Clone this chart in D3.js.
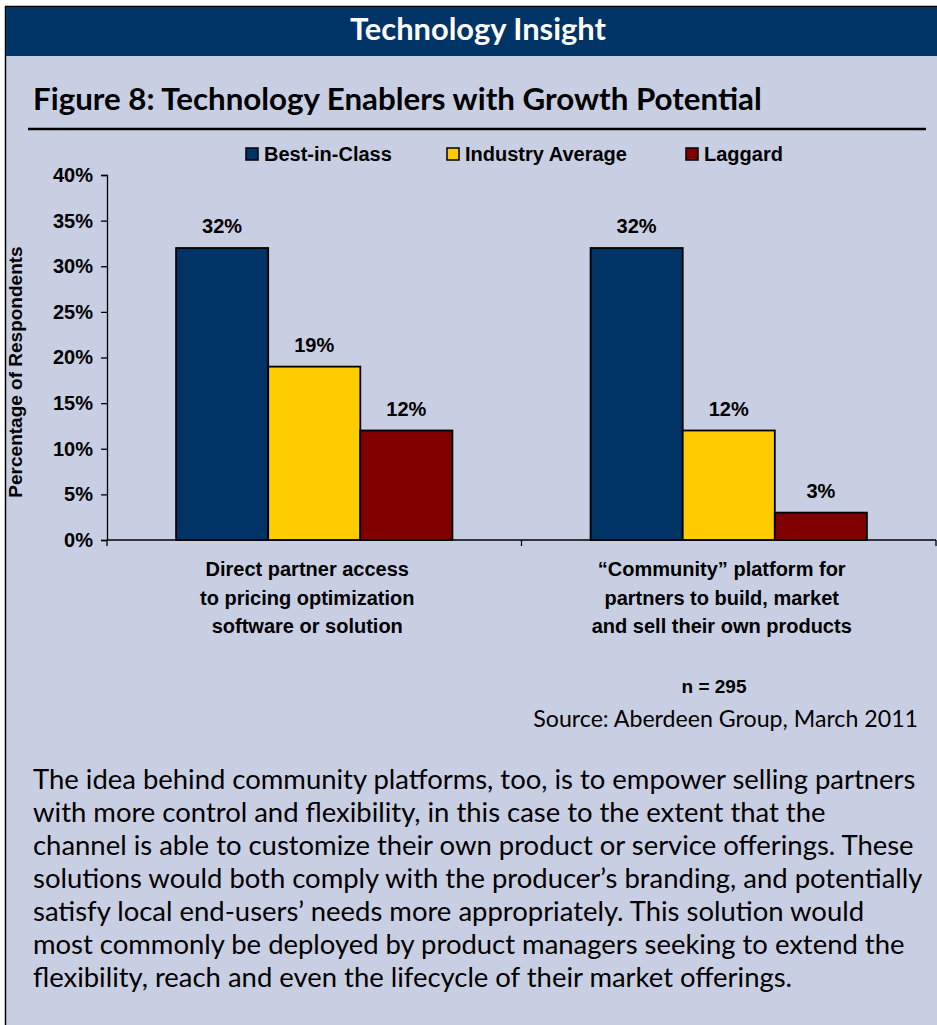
<!DOCTYPE html>
<html>
<head>
<meta charset="utf-8">
<script src="https://cdn.jsdelivr.net/npm/d3@7"></script>
<style>
  html, body { margin: 0; padding: 0; background: #ffffff; }
  svg { display: block; }
</style>
</head>
<body>
<svg id="chart" width="937" height="1025"></svg>
<script>
// ---------------- data ----------------
const categories = ["Direct partner access", "Community platform"];
const categoryLabels = [
  ["Direct partner access", "to pricing optimization", "software or solution"],
  ["\u201cCommunity\u201d platform for", "partners to build, market", "and sell their own products"]
];
const series = ["Best-in-Class", "Industry Average", "Laggard"];
const bestInClass = [32, 32];
const industryAverage = [19, 12];
const laggard = [12, 3];
const seriesValues = [bestInClass, industryAverage, laggard];
const yTicks = [0, 5, 10, 15, 20, 25, 30, 35, 40];
const headerTitle = "Technology Insight";
const figureTitle = "Figure 8: Technology Enablers with Growth Potential";
const yAxisTitle = "Percentage of Respondents";
const sampleNote = "n = 295";
const sourceNote = "Source: Aberdeen Group, March 2011";
const bodyLines = [
  "The idea behind community platforms, too, is to empower selling partners",
  "with more control and flexibility, in this case to the extent that the",
  "channel is able to customize their own product or service offerings. These",
  "solutions would both comply with the producer\u2019s branding, and potentially",
  "satisfy local end-users\u2019 needs more appropriately. This solution would",
  "most commonly be deployed by product managers seeking to extend the",
  "flexibility, reach and even the lifecycle of their market offerings."
];

// ---------------- styles ----------------
const colors = ["#003366", "#FFCC00", "#800000"];
const navy = "#003366";
const panelBg = "#C9CFE3";
const humanist = "'Lato', 'Open Sans', sans-serif";
const arial = "'Liberation Sans', Arial, sans-serif";

const svg = d3.select("#chart");

// panel
svg.append("rect").attr("x", 5.5).attr("y", 6.5).attr("width", 940).attr("height", 1030)
  .attr("fill", panelBg).attr("stroke", "#000").attr("stroke-width", 1.5);
svg.append("rect").attr("x", 6).attr("y", 7).attr("width", 931).attr("height", 49).attr("fill", navy);

function fitWidth(sel, target) {
  const w = sel.node().getComputedTextLength();
  const fs = parseFloat(sel.attr("font-size"));
  sel.attr("font-size", fs * target / w);
}

const hdr = svg.append("text").attr("x", 478).attr("y", 40).attr("text-anchor", "middle")
  .attr("font-family", humanist).attr("font-weight", "bold").attr("font-size", 28)
  .attr("fill", "#fff").text(headerTitle);
fitWidth(hdr, 256);

const ft = svg.append("text").attr("x", 33).attr("y", 110)
  .attr("font-family", humanist).attr("font-weight", "bold").attr("font-size", 26)
  .attr("fill", "#000").text(figureTitle);
fitWidth(ft, 729);

svg.append("line").attr("x1", 28).attr("x2", 926).attr("y1", 129).attr("y2", 129)
  .attr("stroke", "#000").attr("stroke-width", 2.5);

// ---------------- chart ----------------
const plot = { left: 107, right: 936, top: 175, bottom: 540 };
const x = d3.scaleBand().domain(categories).range([plot.left, plot.right]).paddingInner(0).paddingOuter(0);
const xs = d3.scaleBand().domain(series).range([0, x.bandwidth()]).paddingInner(0).paddingOuter(0.75);
const y = d3.scaleLinear().domain([0, 40]).range([plot.bottom, plot.top]);

// y axis
const yAxis = d3.axisLeft(y).tickValues(yTicks).tickFormat(d => d + "%").tickSize(6).tickPadding(8);
const gy = svg.append("g").attr("transform", `translate(${plot.left},0)`).call(yAxis);
gy.select(".domain").attr("stroke", "#000").attr("stroke-width", 1.3);
gy.selectAll(".tick line").attr("stroke", "#000").attr("stroke-width", 1.3);
gy.selectAll(".tick text").attr("font-family", arial).attr("font-weight", "bold")
  .attr("font-size", 20).attr("fill", "#000");

// x axis (boundary ticks)
const gx = svg.append("g").attr("transform", `translate(0,${plot.bottom})`);
gx.append("line").attr("x1", plot.left).attr("x2", plot.right).attr("stroke", "#000").attr("stroke-width", 1.3);
const boundaries = categories.map(c => x(c)).concat([x(categories[categories.length - 1]) + x.bandwidth()]);
gx.selectAll("line.tk").data(boundaries).join("line").attr("class", "tk")
  .attr("x1", d => d).attr("x2", d => d).attr("y1", 0).attr("y2", 6)
  .attr("stroke", "#000").attr("stroke-width", 1.3);

// bars
const barData = [];
categories.forEach((c, i) => series.forEach((s, j) => barData.push({ c, s, j, v: seriesValues[j][i] })));
svg.append("g").selectAll("rect").data(barData).join("rect")
  .attr("x", d => x(d.c) + xs(d.s))
  .attr("y", d => y(d.v))
  .attr("width", xs.bandwidth())
  .attr("height", d => y(0) - y(d.v))
  .attr("fill", d => colors[d.j])
  .attr("stroke", "#000").attr("stroke-width", 1.8);

svg.append("g").selectAll("text").data(barData).join("text")
  .attr("x", d => x(d.c) + xs(d.s) + xs.bandwidth() / 2)
  .attr("y", d => y(d.v) - 15)
  .attr("text-anchor", "middle")
  .attr("font-family", arial).attr("font-weight", "bold").attr("font-size", 20)
  .attr("fill", "#000").text(d => d.v + "%");

// category labels
categories.forEach((c, i) => {
  const t = svg.append("text").attr("text-anchor", "middle")
    .attr("font-family", arial).attr("font-weight", "bold").attr("font-size", 20).attr("fill", "#000");
  categoryLabels[i].forEach((line, k) => {
    t.append("tspan").attr("x", x(c) + x.bandwidth() / 2 - 7).attr("y", 576 + k * 28.5).text(line);
  });
});

// y axis title
svg.append("text").attr("transform", "translate(22,372) rotate(-90)").attr("text-anchor", "middle")
  .attr("font-family", arial).attr("font-weight", "bold").attr("font-size", 19)
  .attr("fill", "#000").text(yAxisTitle);

// legend
const legendX = [246, 447, 686];
const lg = svg.append("g").selectAll("g").data(series).join("g")
  .attr("transform", (d, i) => `translate(${legendX[i]},148)`);
lg.append("rect").attr("width", 12).attr("height", 12)
  .attr("fill", (d, i) => colors[i]).attr("stroke", "#000").attr("stroke-width", 1.5);
lg.append("text").attr("x", 18).attr("y", 13)
  .attr("font-family", arial).attr("font-weight", "bold").attr("font-size", 20)
  .attr("fill", "#000").text(d => d);

// notes
svg.append("text").attr("x", 714).attr("y", 693).attr("text-anchor", "middle")
  .attr("font-family", arial).attr("font-weight", "bold").attr("font-size", 19)
  .attr("fill", "#000").text(sampleNote);
const src = svg.append("text").attr("x", 918).attr("y", 727).attr("text-anchor", "end")
  .attr("font-family", humanist).attr("font-size", 20).attr("fill", "#000").text(sourceNote);
fitWidth(src, 385);

// body paragraph
const body = svg.append("g").attr("font-family", humanist).attr("fill", "#000");
const first = body.append("text").attr("x", 33).attr("y", 789).attr("font-size", 25).text(bodyLines[0]);
fitWidth(first, 883);
const bodySize = first.attr("font-size");
first.remove();
body.selectAll("text").data(bodyLines).join("text")
  .attr("x", 33).attr("y", (d, i) => 789 + i * 33)
  .attr("font-size", bodySize).text(d => d);
</script>
</body>
</html>
